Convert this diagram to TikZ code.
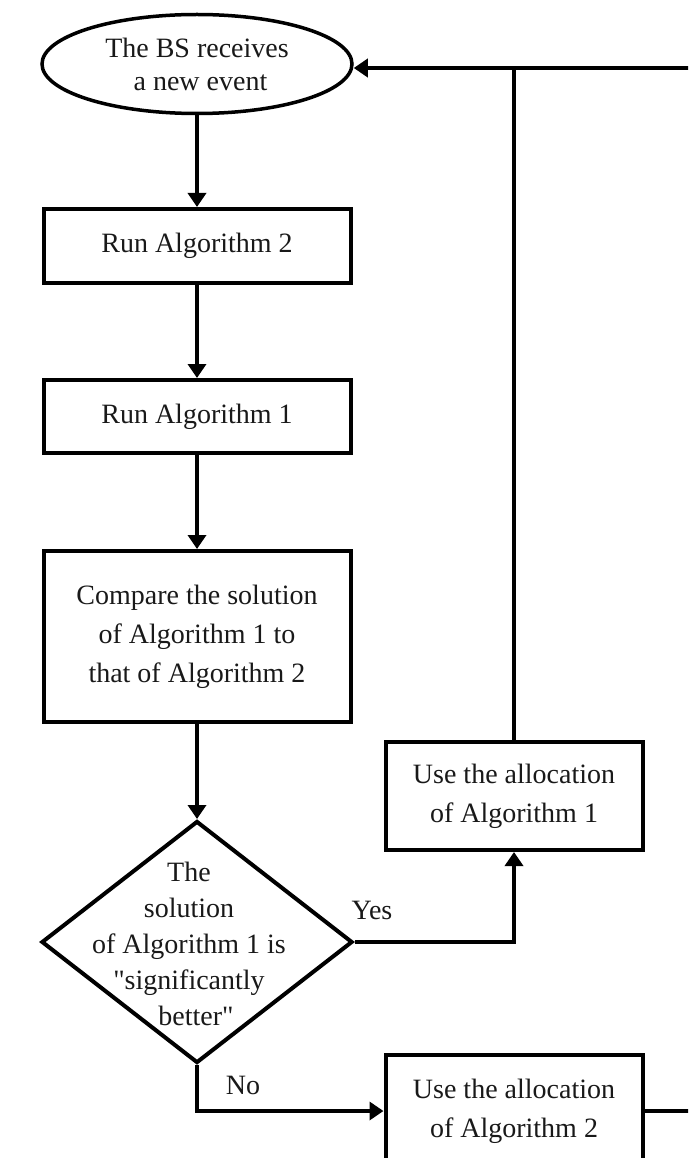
\documentclass[tikz,border=0pt]{standalone}
\usepackage{fontspec}
\setmainfont{Liberation Serif}
\newfontfamily\qfont{Liberation Serif}
\usetikzlibrary{shapes.geometric,arrows.meta}
\newcommand{\sq}{{\qfont"}}
\begin{document}
\begin{tikzpicture}[x=1pt,y=-1pt,
  every node/.style={font=\fontsize{28}{39}\selectfont, text=black!90},
  stepbox/.style={draw, rectangle, line width=4pt, inner sep=0pt, align=center},
  startnode/.style={draw, ellipse, line width=3.5pt, minimum width=310pt, minimum height=99pt, inner sep=0pt, align=center, font=\fontsize{28}{33}\selectfont},
  decision/.style={draw, diamond, line width=4pt, minimum width=311pt, minimum height=242pt, inner sep=0pt},
  flow/.style={line width=3.5pt, -{Triangle[length=14pt,width=18pt]}},
  plain/.style={line width=3.5pt},
  lbl/.style={inner sep=0pt}
]
\useasboundingbox (0,0) rectangle (688,1158);
\clip (0,0) rectangle (688,1158);

\node[startnode] (ev) at (197,64) {The BS receives\\\ a new event};
\node[stepbox, minimum width=307pt, minimum height=74pt] (ra2) at (197,246) {Run Algorithm 2};
\node[stepbox, minimum width=307pt, minimum height=73pt] (ra1) at (197,416.5) {Run Algorithm 1};
\node[stepbox, minimum width=307pt, minimum height=171pt] (cmp) at (197,636.5) {Compare the solution\\of Algorithm 1 to\\that of Algorithm 2};
\node[decision] (dec) at (197,942) {};
\node[lbl, align=center, font=\fontsize{28}{36}\selectfont] (dect) at (189,944) {The\\solution\\of Algorithm 1 is\\\sq significantly\\\ \ better\sq};
\node[stepbox, minimum width=257pt, minimum height=108pt] (ua1) at (514,796) {Use the allocation\\of Algorithm 1};
\node[stepbox, minimum width=257pt, minimum height=112pt] (ua2) at (514,1111) {Use the allocation\\of Algorithm 2};

\node[lbl] (yes) at (372,910) {Yes};
\node[lbl] (no) at (243,1085) {No};

\coordinate (re) at (700,68);

\draw[flow] (ev) -- (ra2);
\draw[flow] (ra2) -- (ra1);
\draw[flow] (ra1) -- (cmp);
\draw[flow] (cmp) -- (dec.north);
\draw[flow] (dec.east) -| (ua1.south);
\draw[plain] (ua1.north) -- (ua1.north |- re);
\draw[flow] (re) -- (ev.east |- re);
\draw[flow] (dec.south) |- (ua2.west);
\draw[plain] (ua2.east) -- ++(60,0);
\end{tikzpicture}
\end{document}
